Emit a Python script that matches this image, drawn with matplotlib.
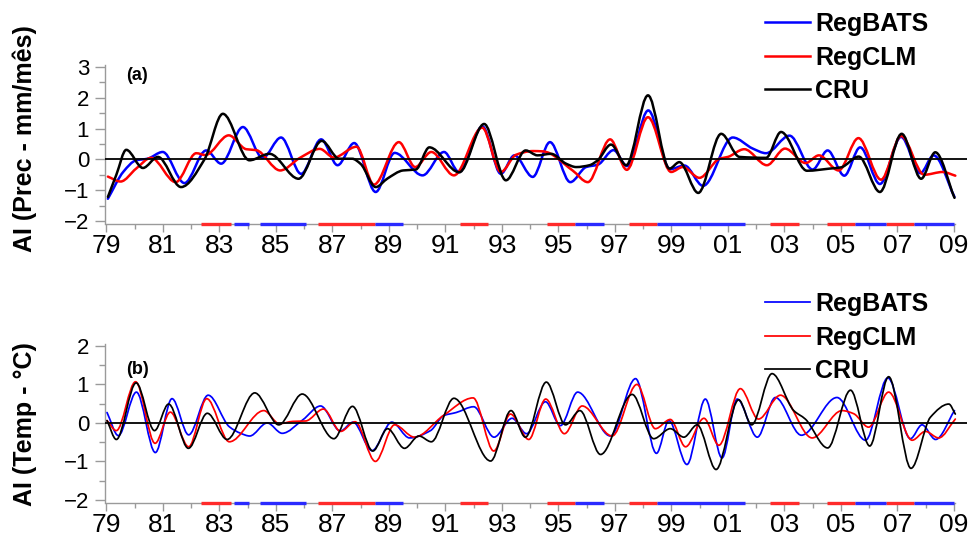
import numpy as np
import matplotlib
matplotlib.use("Agg")
import matplotlib.pyplot as plt
from matplotlib.path import Path
from matplotlib.patches import PathPatch
from matplotlib.lines import Line2D
from matplotlib.ticker import MultipleLocator, FuncFormatter

plt.rcParams['font.family'] = ['Liberation Sans', 'DejaVu Sans']

# ---------------- data: panel (a) precipitation anomaly index ----------------
a_cru_x = [1979.05, 1979.35, 1979.7, 1980.29, 1980.82, 1981.64, 1982.47, 1983.12, 1984.06, 1984.77,
           1985.8, 1986.62, 1987.24, 1987.7, 1988.0, 1988.53, 1988.95, 1989.5, 1989.95, 1990.43,
           1991.49, 1992.37, 1993.14, 1993.84, 1994.26, 1994.74, 1995.27, 1995.63, 1996.1, 1996.39,
           1996.86, 1997.4, 1998.17, 1998.93, 1999.28, 1999.95, 2000.76, 2001.41, 2002.35, 2002.88,
           2003.8, 2004.6, 2005.0, 2005.63, 2006.38, 2007.15, 2007.84, 2008.34, 2009.02]
a_cru_y = [-1.22, -0.5, 0.31, -0.28, 0.08, -0.9, 0.0, 1.48, -0.03, 0.18,
           -0.63, 0.6, 0.02, 0.02, -0.15, -0.9, -0.62, -0.36, -0.33, 0.39,
           -0.42, 1.15, -0.68, 0.29, 0.13, 0.18, -0.14, -0.25, -0.19, -0.03,
           0.48, -0.19, 2.08, -0.3, -0.09, -1.09, 0.83, 0.08, 0.05, 0.89,
           -0.37, -0.3, -0.26, 0.09, -1.06, 0.83, -0.63, 0.23, -1.25]

a_bats_x = [1979.05, 1979.6, 1980.05, 1980.45, 1980.99, 1981.76, 1982.53, 1983.06, 1983.83, 1984.53,
            1985.18, 1985.89, 1986.6, 1987.18, 1987.77, 1988.53, 1989.2, 1990.19, 1990.95, 1991.48,
            1992.31, 1992.96, 1993.44, 1994.09, 1994.7, 1995.42, 1995.98, 1996.4, 1996.95, 1997.43,
            1998.18, 1998.95, 1999.46, 2000.12, 2001.17, 2001.88, 2002.35, 2003.18, 2004.0, 2004.53,
            2005.12, 2005.68, 2006.38, 2007.13, 2007.81, 2008.28, 2009.02]
a_bats_y = [-1.28, -0.4, -0.03, 0.02, 0.24, -0.77, 0.29, -0.14, 1.05, 0.05,
            0.71, -0.47, 0.65, -0.19, 0.53, -1.06, 0.21, -0.52, 0.24, -0.41,
            1.07, -0.47, 0.13, -0.57, 0.56, -0.74, -0.25, -0.17, 0.3, -0.22,
            1.59, -0.32, -0.2, -0.86, 0.71, 0.35, 0.2, 0.77, -0.33, 0.29,
            -0.53, 0.39, -0.8, 0.73, -0.45, 0.13, -1.22]

a_clm_x = [1979.05, 1979.5, 1980.05, 1980.58, 1981.45, 1982.18, 1982.5, 1983.33, 1983.95, 1984.3,
           1985.15, 1985.85, 1986.55, 1987.05, 1987.85, 1988.47, 1989.35, 1989.93, 1990.5, 1991.3,
           1992.3, 1992.96, 1993.5, 1994.1, 1994.45, 1995.5, 1996.04, 1996.83, 1997.42, 1998.17,
           1998.99, 1999.4, 1999.99, 2000.7, 2001.0, 2001.58, 2002.38, 2003.02, 2003.75, 2004.22,
           2004.92, 2005.62, 2006.42, 2007.13, 2007.95, 2008.6, 2009.05]
a_clm_y = [-0.56, -0.72, -0.3, 0.05, -0.74, 0.2, 0.14, 0.78, 0.33, 0.3,
           -0.36, 0.05, 0.34, 0.06, 0.41, -0.82, 0.56, -0.25, 0.24, -0.52,
           1.03, -0.41, 0.15, 0.27, 0.26, -0.36, -0.74, 0.65, -0.34, 1.37,
           -0.41, -0.25, -0.6, 0.02, 0.08, 0.33, -0.19, 0.35, -0.12, 0.13,
           -0.36, 0.69, -0.66, 0.76, -0.5, -0.41, -0.53]

# ---------------- data: panel (b) temperature anomaly index ----------------
b_cru_x = [1979.02, 1979.35, 1980.05, 1980.7, 1981.2, 1981.9, 1982.57, 1983.27, 1984.25, 1985.1,
           1985.93, 1987.05, 1987.71, 1988.43, 1988.95, 1989.55, 1990.06, 1990.5, 1991.3, 1992.6,
           1993.32, 1993.83, 1994.57, 1995.25, 1995.76, 1996.49, 1997.61, 1998.37, 1998.96, 1999.44,
           1999.91, 2000.58, 2001.38, 2001.84, 2002.56, 2003.33, 2003.74, 2004.53, 2005.34, 2006.02,
           2006.69, 2007.48, 2008.17, 2008.82, 2009.05]
b_cru_y = [0.06, -0.43, 1.04, -0.2, 0.49, -0.66, 0.25, -0.43, 0.78, -0.05,
           0.75, -0.41, 0.43, -0.73, -0.15, -0.66, -0.34, -0.49, 0.64, -0.99,
           0.32, -0.37, 1.06, -0.05, 0.32, -0.82, 0.74, -0.41, -0.15, -0.37,
           -0.05, -1.21, 0.6, -0.05, 1.28, 0.32, 0.1, -0.65, 0.85, -0.6,
           1.2, -1.18, 0.15, 0.49, 0.23]

b_bats_x = [1979.02, 1979.42, 1980.06, 1980.73, 1981.32, 1981.91, 1982.6, 1983.35, 1983.75, 1984.07,
            1984.69, 1985.22, 1985.95, 1986.58, 1987.28, 1987.73, 1988.4, 1989.1, 1989.73, 1990.47,
            1990.94, 1991.38, 1992.0, 1992.72, 1993.36, 1993.87, 1994.54, 1995.07, 1995.68, 1996.84,
            1997.73, 1998.47, 1998.91, 1999.55, 2000.2, 2000.79, 2001.33, 2002.04, 2002.68, 2003.6,
            2004.86, 2005.87, 2006.66, 2007.46, 2007.87, 2008.35, 2009.02]
b_bats_y = [0.27, -0.33, 0.8, -0.77, 0.63, -0.31, 0.72, -0.1, -0.27, -0.34,
            0.0, -0.27, 0.08, 0.44, -0.21, 0.02, -0.72, 0.02, -0.39, -0.2,
            0.19, 0.27, 0.42, -0.37, 0.12, -0.28, 0.55, -0.07, 0.8, -0.34,
            1.15, -0.79, 0.06, -1.08, 0.62, -0.91, 0.62, -0.37, 0.66, -0.32,
            0.66, -0.45, 1.17, -0.41, -0.05, -0.43, 0.32]

b_clm_x = [1979.02, 1979.35, 1980.03, 1980.72, 1981.26, 1981.91, 1982.55, 1983.35, 1984.57, 1985.12,
           1985.6, 1986.05, 1986.68, 1987.29, 1987.8, 1988.52, 1989.2, 1989.9, 1990.94, 1991.98,
           1992.71, 1993.3, 1993.95, 1994.55, 1995.21, 1995.84, 1996.9, 1997.78, 1998.43, 1998.96,
           1999.5, 2000.15, 2000.68, 2001.44, 2002.08, 2002.86, 2003.98, 2005.04, 2005.45, 2005.98,
           2006.69, 2007.52, 2007.99, 2008.46, 2009.05]
b_clm_y = [0.06, -0.2, 1.07, -0.53, 0.28, -0.62, 0.63, -0.49, 0.32, -0.02,
           0.04, 0.05, 0.36, -0.22, 0.03, -1.0, -0.05, -0.37, 0.2, 0.65,
           -0.73, 0.23, -0.43, 0.62, -0.28, 0.44, -0.34, 1.0, -0.15, 0.09,
           -0.62, 0.12, -0.58, 0.89, 0.1, 0.72, -0.39, 0.32, 0.24, -0.11,
           0.8, -0.45, -0.22, -0.39, 0.1]

# ENSO periods marked along the bottom axis
nino_start = [1982.35, 1986.5, 1991.5, 1994.6, 1997.5, 2002.5, 2004.5, 2006.6]
nino_end = [1983.42, 1988.5, 1992.5, 1995.6, 1998.5, 2003.5, 2005.5, 2007.6]
nina_start = [1983.5, 1984.45, 1988.5, 1995.6, 1998.5, 2005.5, 2007.6]
nina_end = [1984.06, 1986.08, 1989.5, 1996.6, 2001.6, 2006.6, 2009.0]

series_labels = ["RegBATS", "RegCLM", "CRU"]
series_colors = ["#0000ff", "#ff0000", "#000000"]
year_ticks = list(range(1979, 2010, 2))


def smooth_patch(x, y, color, lw, z):
    x = np.asarray(x, float)
    y = np.asarray(y, float)
    n = len(x)
    h = np.diff(x)
    d = np.diff(y) / h
    m = np.zeros(n)
    m[0] = d[0]
    m[-1] = d[-1]
    for i in range(1, n - 1):
        if d[i - 1] * d[i] <= 0:
            m[i] = 0.0
        else:
            w1 = 2 * h[i] + h[i - 1]
            w2 = h[i] + 2 * h[i - 1]
            m[i] = (w1 + w2) / (w1 / d[i - 1] + w2 / d[i])
    verts = [(x[0], y[0])]
    codes = [Path.MOVETO]
    for i in range(n - 1):
        verts += [(x[i] + h[i] / 3, y[i] + m[i] * h[i] / 3),
                  (x[i + 1] - h[i] / 3, y[i + 1] - m[i + 1] * h[i] / 3),
                  (x[i + 1], y[i + 1])]
        codes += [Path.CURVE4] * 3
    return PathPatch(Path(verts, codes), fill=False, edgecolor=color, lw=lw,
                     zorder=z, capstyle='round', joinstyle='round')


fig = plt.figure(figsize=(9.71, 5.42), dpi=100)

spine_col = "#9a9a9a"
xl = (1978.95, 2009.45)

panels = [
    dict(rect=[0.1082, 0.5867, 0.8873, 0.2925], ylim=(-2.1, 3.05), yt=(-2, 3),
         data=[(a_bats_x, a_bats_y), (a_clm_x, a_clm_y), (a_cru_x, a_cru_y)],
         lw=1.8, tag="(a)", tagy=0.935, ylabel="AI (Prec - mm/mês)", ylab_y=1 - 139 / 542,
         leg_top=1 - 12 / 542),
    dict(rect=[0.1082, 0.0720, 0.8873, 0.2933], ylim=(-2.08, 2.05), yt=(-2, 2),
         data=[(b_bats_x, b_bats_y), (b_clm_x, b_clm_y), (b_cru_x, b_cru_y)],
         lw=1.25, tag="(b)", tagy=0.84, ylabel="AI (Temp - °C)", ylab_y=1 - 424 / 542,
         leg_top=1 - 292 / 542),
]

for p in panels:
    ax = fig.add_axes(p["rect"])
    ax.set_xlim(*xl)
    ax.set_ylim(*p["ylim"])
    for s in ["top", "right"]:
        ax.spines[s].set_visible(False)
    ax.spines["left"].set_color(spine_col)
    ax.spines["bottom"].set_color(spine_col)
    ax.spines["left"].set_linewidth(1.0)
    ax.spines["bottom"].set_linewidth(1.0)
    ax.spines["bottom"].set_bounds(1979, 2009.05)

    ax.set_xticks(year_ticks)
    ax.xaxis.set_minor_locator(MultipleLocator(1))
    ax.xaxis.set_major_formatter(FuncFormatter(lambda v, pos: f"{int(round(v)) % 100:02d}"))
    ax.set_yticks(np.arange(p["yt"][0], p["yt"][1] + 1, 1))
    ax.yaxis.set_minor_locator(MultipleLocator(0.5))
    ax.tick_params(axis="x", which="major", length=6, width=1, color=spine_col,
                   labelsize=19, pad=1)
    ax.tick_params(axis="x", which="minor", length=3.5, width=1, color=spine_col)
    ax.tick_params(axis="y", which="major", length=7.5, width=1, color=spine_col,
                   labelsize=16, pad=4)
    ax.tick_params(axis="y", which="minor", length=4, width=1, color=spine_col)

    # curves
    for (sx, sy), col, z in zip(p["data"], series_colors, [3, 4, 5]):
        ax.add_patch(smooth_patch(sx, sy, col, p["lw"], z))

    # zero line
    ax.axhline(0, color="black", lw=1.3, zorder=6)

    # ENSO bars on the bottom axis
    ybar = p["ylim"][0]
    for s, e in zip(nino_start, nino_end):
        ax.plot([s, e], [ybar, ybar], color="#ff2a2a", lw=2.4, solid_capstyle="butt",
                clip_on=False, zorder=7)
    for s, e in zip(nina_start, nina_end):
        ax.plot([s, e], [ybar, ybar], color="#2a2aff", lw=2.4, solid_capstyle="butt",
                clip_on=False, zorder=7)

    ax.text(0.0245, p["tagy"], p["tag"], transform=ax.transAxes, fontsize=13,
            fontweight="bold", ha="left", va="center")

    fig.text(25 / 971, p["ylab_y"], p["ylabel"], rotation=90, fontsize=18,
             fontweight="bold", ha="center", va="center")

    handles = [Line2D([], [], color=c, lw=p["lw"]) for c in series_colors]
    ax.legend(handles, series_labels, loc="upper left",
              bbox_to_anchor=(765 / 971, p["leg_top"]), bbox_transform=fig.transFigure,
              frameon=False, prop=dict(size=18, weight="bold"), handlelength=1.8,
              handletextpad=0.2, labelspacing=0.38, borderpad=0, borderaxespad=0)

fig.savefig("out.png", dpi=100)
